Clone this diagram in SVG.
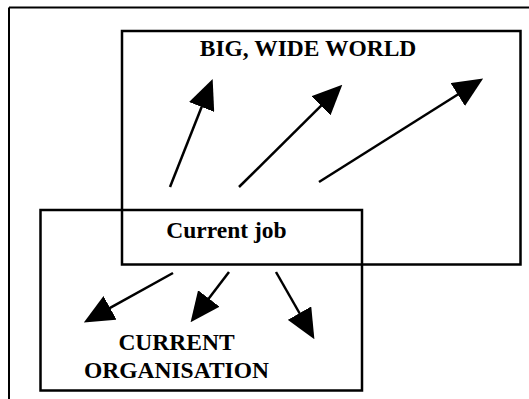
<svg xmlns="http://www.w3.org/2000/svg" width="529" height="399" viewBox="0 0 529 399">
<style>
.frame{stroke:#000;stroke-width:2;fill:none}
.box{stroke:#000;stroke-width:2.5;fill:none}
.lbl{font-family:"Liberation Serif","Times New Roman",serif;font-weight:bold;font-size:23.5px;fill:#000;text-anchor:middle}
.arr{stroke:#000;stroke-width:2.5;fill:none;marker-end:url(#head)}
</style>
<defs>
<marker id="head" markerUnits="userSpaceOnUse" viewBox="0 0 30 27" refX="1" refY="13.5" markerWidth="30" markerHeight="27" orient="auto">
<path d="M0,0 L30,13.5 L0,27 Z" fill="#000"/>
</marker>
</defs>
<rect width="529" height="399" fill="#fff"/>
<g id="frame">
<line class="frame" x1="9" y1="7.5" x2="529" y2="7.5"/>
<line class="frame" x1="9" y1="7.5" x2="9" y2="399"/>
</g>
<g id="big-wide-world">
<rect class="box" x="122" y="31" width="398.5" height="233.5"/>
<text class="lbl" x="308" y="56">BIG, WIDE WORLD</text>
</g>
<g id="current-organisation">
<rect class="box" x="40.5" y="210" width="321.5" height="180.5"/>
<text class="lbl" x="176.5" y="350">CURRENT</text>
<text class="lbl" x="176.5" y="378">ORGANISATION</text>
</g>
<g id="current-job">
<text class="lbl" x="226.5" y="238">Current job</text>
</g>
<g id="connectors">
<line class="arr" x1="170" y1="187" x2="202" y2="106"/>
<line class="arr" x1="239" y1="187" x2="321.7" y2="105.1"/>
<line class="arr" x1="319" y1="182" x2="458.6" y2="94"/>
<line class="arr" x1="173" y1="273" x2="109.2" y2="308.4"/>
<line class="arr" x1="229" y1="272" x2="208.2" y2="299.2"/>
<line class="arr" x1="276" y1="272" x2="300" y2="314"/>
</g>
</svg>
